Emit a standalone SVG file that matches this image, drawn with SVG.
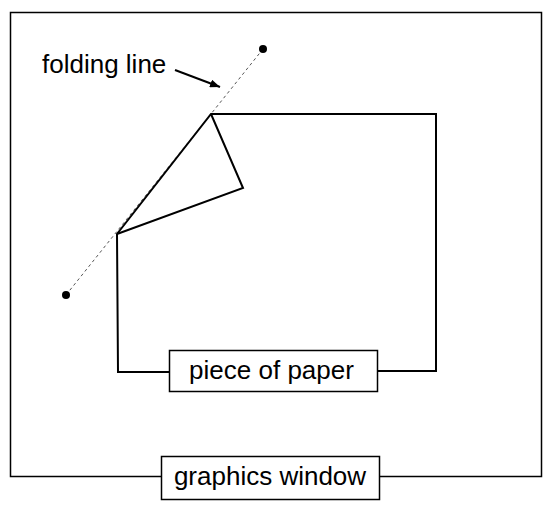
<svg xmlns="http://www.w3.org/2000/svg" width="549" height="510" viewBox="0 0 549 510">
<defs>
<style>
.ln{fill:none;stroke:#000;stroke-width:2}
.box{fill:#fff;stroke:#000;stroke-width:1.5}
.lbl{font-family:"Liberation Sans",Arial,sans-serif;font-size:26px;fill:#000}
.fold{fill:none;stroke:#555;stroke-width:1;stroke-dasharray:3,3}
</style>
<marker id="ah" markerWidth="10" markerHeight="8" refX="10" refY="4" orient="auto" markerUnits="userSpaceOnUse" viewBox="0 0 10 8">
<path d="M0,0 L10,4 L0,8 Z" fill="#000"/>
</marker>
</defs>
<rect width="549" height="510" fill="#fff"/>
<g id="window">
<rect x="10.5" y="12.5" width="531" height="464" class="box"/>
<rect x="161.5" y="456.5" width="218" height="43" class="box"/>
<text x="270" y="485" text-anchor="middle" class="lbl">graphics window</text>
</g>
<g id="connectors">
<line x1="263" y1="49" x2="66" y2="295" class="fold"/>
<circle cx="263" cy="49" r="4" fill="#000"/>
<circle cx="66" cy="295" r="4" fill="#000"/>
<line x1="175" y1="70" x2="220" y2="87" stroke="#000" stroke-width="2" marker-end="url(#ah)"/>
</g>
<g id="paper">
<polyline points="170,372 118,372 117,234 211,114 436,114 436,371 378,371" class="ln"/>
<polyline points="211,114 243,188 117,234" class="ln"/>
<rect x="169.5" y="350.5" width="208" height="41" class="box"/>
<text x="271.5" y="379" text-anchor="middle" class="lbl">piece of paper</text>
</g>
<g id="folding-label">
<text x="42" y="73" class="lbl">folding line</text>
</g>
</svg>
